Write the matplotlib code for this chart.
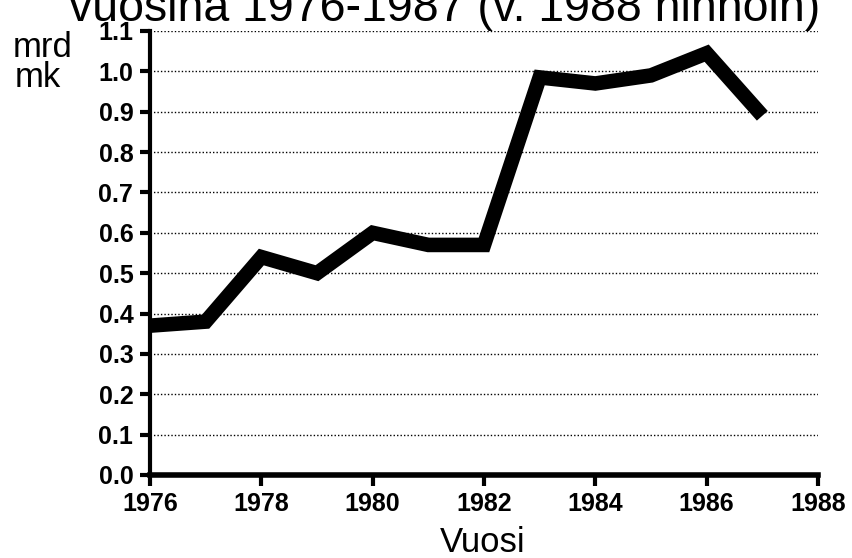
import matplotlib.pyplot as plt

years = [1976, 1977, 1978, 1979, 1980, 1981, 1982, 1983, 1984, 1985, 1986, 1987]
values = [0.37, 0.38, 0.54, 0.50, 0.60, 0.57, 0.57, 0.985, 0.97, 0.99, 1.045, 0.89]

x_ticks = [1976, 1978, 1980, 1982, 1984, 1986, 1988]
y_ticks = [0.0, 0.1, 0.2, 0.3, 0.4, 0.5, 0.6, 0.7, 0.8, 0.9, 1.0, 1.1]

plt.rcParams["font.family"] = ["Liberation Sans", "DejaVu Sans"]

W, H = 852, 558
fig = plt.figure(figsize=(W / 100, H / 100), dpi=100)
ax = fig.add_axes([150 / W, 1 - 475 / H, (818 - 150) / W, (475 - 31) / H])

# dotted guide lines
for y in y_ticks[1:]:
    ax.axhline(y, color="black", linestyle=(0, (1, 1.5)), linewidth=1.0, zorder=1)

ax.plot(years, values, color="black", linewidth=10.5,
        solid_capstyle="butt", solid_joinstyle="miter", zorder=3)

ax.set_xlim(1976, 1988)
ax.set_ylim(0, 1.1)
ax.set_xticks(x_ticks)
ax.set_yticks(y_ticks)
ax.set_xticklabels([str(t) for t in x_ticks], fontsize=18, fontweight="bold")
ax.set_yticklabels([f"{t:.1f}" for t in y_ticks], fontsize=18, fontweight="bold")

for side in ["top", "right"]:
    ax.spines[side].set_visible(False)
ax.spines["left"].set_linewidth(3)
ax.spines["bottom"].set_linewidth(4)
ax.spines["left"].set_zorder(4)
ax.spines["bottom"].set_zorder(4)
ax.tick_params(axis="y", direction="out", length=7, width=3, pad=5)
ax.tick_params(axis="x", direction="out", length=8, width=3, pad=4)

fig.text(13 / W, 1 - 57 / H, "mrd", fontsize=25, va="baseline", ha="left")
fig.text(15 / W, 1 - 87 / H, "mk", fontsize=25, va="baseline", ha="left")
fig.text(483 / W, 1 - 552 / H, "Vuosi", fontsize=25, va="baseline", ha="center")
fig.text(445 / W, 1 - 21 / H, "vuosina 1976-1987 (v. 1988 hinnoin)",
         fontsize=33.5, va="baseline", ha="center")

fig.savefig("out.png", dpi=100)
